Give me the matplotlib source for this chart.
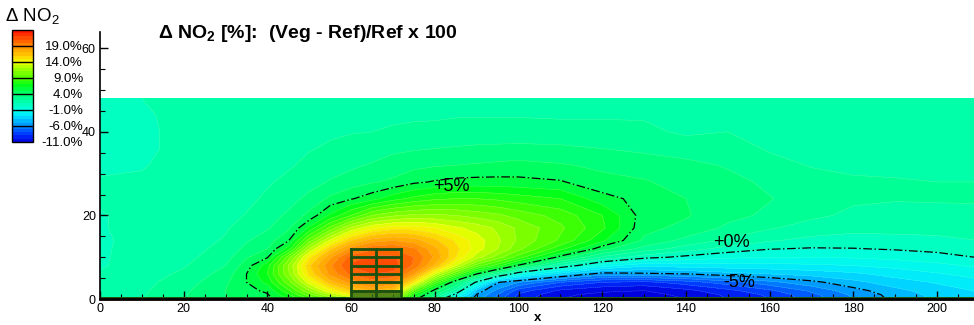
import numpy as np
import matplotlib
matplotlib.use('Agg')
import matplotlib.pyplot as plt
from matplotlib.colors import LinearSegmentedColormap, Normalize
from matplotlib.cm import ScalarMappable
from matplotlib.patches import Rectangle
from matplotlib.ticker import MultipleLocator

plt.rcParams['font.family'] = ['Liberation Sans', 'DejaVu Sans']
plt.rcParams['mathtext.default'] = 'regular'
plt.rcParams['lines.dashdot_pattern'] = [7.0, 2.0, 1.2, 2.0]

# mesh nodes (m)
x_nodes = [0, 10, 20, 30, 35, 40, 45, 50, 55, 60, 65, 70, 75, 80, 85, 90, 95,
           100, 110, 120, 130, 140, 150, 160, 170, 180, 190, 200, 210]
z_nodes = [0, 1, 2, 4, 6, 8, 10, 12, 14, 17, 20, 24, 28, 32, 36, 40, 44, 48]

# delta NO2 [%], one vertical profile (bottom -> top) per x node
dno2_by_x = [
    [1.5, 1.5, 1.4, 1.3, 1.1, 0.9, 0.9, 0.9, 0.9, 0.95, 0.95, 1.1, 1.05, 0.9, 0.85, 0.8, 0.85, 0.9],
    [1.9, 1.9, 1.8, 1.7, 1.5, 1.4, 1.3, 1.25, 1.2, 1.2, 1.2, 1.2, 1.1, 0.95, 0.85, 0.85, 0.9, 1.0],
    [2.9, 2.9, 2.8, 2.5, 2.2, 1.9, 1.7, 1.6, 1.5, 1.4, 1.35, 1.3, 1.3, 1.25, 1.2, 1.2, 1.2, 1.2],
    [3.9, 4.0, 4.0, 3.8, 3.4, 3.0, 2.6, 2.3, 2.1, 1.9, 1.7, 1.5, 1.4, 1.35, 1.3, 1.3, 1.3, 1.3],
    [4.3, 4.5, 4.7, 5.0, 5.0, 4.5, 3.9, 3.3, 2.9, 2.4, 2.05, 1.8, 1.6, 1.5, 1.4, 1.4, 1.4, 1.4],
    [4.6, 4.9, 5.2, 6.3, 7.0, 6.6, 4.9, 4.0, 3.5, 2.9, 2.5, 2.15, 1.9, 1.7, 1.55, 1.5, 1.5, 1.45],
    [6.0, 6.8, 7.8, 9.5, 10.8, 11.0, 9.5, 6.5, 4.9, 3.8, 3.2, 2.6, 2.2, 1.9, 1.7, 1.6, 1.55, 1.5],
    [8.0, 9.5, 11.0, 13.5, 15.2, 15.8, 14.5, 12.0, 9.5, 6.2, 4.3, 3.3, 2.6, 2.2, 1.95, 1.8, 1.7, 1.6],
    [10.0, 12.0, 14.0, 16.5, 18.3, 18.8, 17.8, 15.8, 13.2, 9.3, 6.2, 4.2, 3.1, 2.5, 2.1, 1.9, 1.75, 1.65],
    [12.0, 14.0, 16.0, 18.5, 20.3, 21.2, 20.5, 18.5, 16.0, 12.2, 8.0, 4.9, 3.5, 2.8, 2.3, 1.95, 1.8, 1.7],
    [13.0, 15.0, 17.0, 19.5, 21.0, 21.8, 21.3, 19.8, 17.5, 13.8, 10.0, 5.6, 3.9, 3.1, 2.5, 2.0, 1.8, 1.7],
    [12.0, 14.0, 16.0, 19.0, 20.8, 21.5, 21.2, 20.0, 18.0, 14.5, 10.8, 6.6, 4.2, 3.4, 2.8, 2.1, 1.85, 1.75],
    [5.6, 7.0, 9.0, 14.5, 18.0, 19.8, 20.0, 19.2, 17.5, 14.5, 11.2, 7.3, 4.8, 3.7, 2.9, 2.15, 1.9, 1.8],
    [1.8, 3.2, 4.5, 8.5, 13.0, 16.8, 17.8, 17.3, 16.2, 14.0, 11.2, 7.8, 5.1, 3.9, 3.0, 2.2, 1.9, 1.8],
    [-3.0, -0.5, 1.5, 4.0, 9.0, 13.0, 15.0, 15.3, 14.8, 13.2, 11.0, 8.0, 5.3, 4.0, 3.1, 2.25, 1.95, 1.8],
    [-5.5, -5.1, -4.3, -0.3, 5.0, 9.5, 12.5, 13.5, 13.5, 12.6, 10.6, 8.0, 5.35, 4.1, 3.2, 2.3, 1.95, 1.8],
    [-7.5, -7.0, -6.3, -4.9, 2.0, 7.5, 10.5, 12.0, 12.2, 11.8, 10.2, 7.8, 5.35, 4.2, 3.25, 2.3, 1.95, 1.75],
    [-9.5, -9.2, -8.5, -6.0, -1.0, 4.8, 8.5, 10.3, 10.8, 10.8, 9.6, 7.5, 5.3, 4.3, 3.3, 2.3, 1.95, 1.75],
    [-11.0, -10.8, -10.2, -8.0, -3.5, 1.0, 4.6, 7.3, 8.8, 9.2, 8.6, 7.0, 5.1, 4.1, 3.2, 2.3, 1.9, 1.7],
    [-11.5, -11.3, -10.8, -9.0, -5.5, -1.5, 1.8, 4.4, 6.2, 7.2, 7.0, 5.4, 4.3, 3.8, 3.0, 2.3, 1.9, 1.7],
    [-11.5, -11.3, -11.0, -9.3, -5.2, -2.8, 0.4, 2.6, 3.8, 4.3, 4.5, 4.6, 4.1, 3.5, 2.8, 2.2, 1.9, 1.7],
    [-11.0, -10.8, -10.3, -8.5, -5.0, -2.5, -0.3, 1.5, 2.7, 3.7, 4.1, 4.0, 3.6, 3.3, 2.5, 1.85, 1.7, 1.6],
    [-10.0, -9.8, -9.3, -7.5, -4.4, -2.4, -0.8, 0.6, 1.8, 2.8, 3.3, 3.4, 3.3, 2.9, 2.4, 2.0, 1.7, 1.6],
    [-9.0, -8.8, -8.2, -6.3, -4.0, -2.3, -1.0, 0.05, 1.1, 2.1, 2.8, 3.05, 2.8, 2.3, 1.9, 1.75, 1.65, 1.55],
    [-7.5, -7.3, -6.8, -5.3, -3.6, -2.2, -1.0, -0.1, 0.7, 1.6, 2.2, 2.5, 2.3, 1.95, 1.8, 1.7, 1.6, 1.5],
    [-6.0, -5.8, -5.4, -4.3, -3.2, -2.0, -0.9, -0.05, 0.6, 1.3, 1.8, 2.15, 2.1, 1.85, 1.75, 1.65, 1.55, 1.5],
    [-4.7, -4.6, -4.3, -3.5, -2.6, -1.7, -0.7, 0.1, 0.7, 1.3, 1.75, 2.05, 2.05, 1.85, 1.75, 1.65, 1.55, 1.5],
    [-3.8, -3.7, -3.5, -2.9, -2.1, -1.3, -0.4, 0.3, 0.8, 1.3, 1.7, 2.1, 2.0, 1.85, 1.75, 1.65, 1.55, 1.45],
    [-3.2, -3.1, -2.9, -2.3, -1.6, -0.8, 0.05, 0.6, 1.0, 1.4, 1.75, 2.1, 2.0, 1.85, 1.75, 1.65, 1.55, 1.45],
]

fill_levels = list(range(-11, 25))
line_levels = [-5, 0, 5]
line_labels = ['-5%', '+0%', '+5%']
line_label_xz = [(152.7, 3.9), (150.8, 13.5), (84, 27)]
cbar_ticks = [-11, -6, -1, 4, 9, 14, 19]

# building outline and floors
bld_x = [60, 66, 72]
bld_floors = [2, 4, 6, 8, 10, 12]

# rainbow palette
cm_vals = [-11, -9, -6, -3, -1, 1.5, 4, 6.5, 9, 12, 14, 16, 19, 21.5, 24]
cm_cols = ['#0000dc', '#0030ff', '#008cff', '#00e6ff', '#00ffe6', '#00ffa8',
           '#00ff73', '#00ff1a', '#4dff00', '#a6ff00', '#f2ff00', '#ffcc00',
           '#ff8c00', '#ff4d00', '#ff0d00']
pos = [(v - cm_vals[0]) / (cm_vals[-1] - cm_vals[0]) for v in cm_vals]
cmap = LinearSegmentedColormap.from_list('tp', list(zip(pos, cm_cols)))
cmap.set_under(cm_cols[0])
cmap.set_over(cm_cols[-1])
norm = Normalize(-11, 24)

W, H = 974, 325
fig = plt.figure(figsize=(W / 100, H / 100), dpi=100)
ax = fig.add_axes([100 / W, 26 / H, 874 / W, 267.5 / H])

X, Z = np.meshgrid(x_nodes, z_nodes)
V = np.array(dno2_by_x).T
ax.contourf(X, Z, V, levels=fill_levels, cmap=cmap, norm=norm, extend='both')
ax.contour(X, Z, V, levels=fill_levels, colors='white', linewidths=0.3, alpha=0.35)
cs = ax.contour(X, Z, V, levels=line_levels, colors='k', linewidths=0.9,
                linestyles='dashdot')
for txt, (lx, lz) in zip(line_labels, line_label_xz):
    ax.text(lx, lz, txt, fontsize=13, ha='center', va='center')

# ground strip and building
ax.add_patch(Rectangle((0, 0), 210, 0.55, color='#1d5512', lw=0, zorder=3))
ax.add_patch(Rectangle((bld_x[0], 0), bld_x[-1] - bld_x[0], 2.2,
                       color='#2f6a16', alpha=0.8, lw=0, zorder=3))
bcol = '#1b5010'
for bx in bld_x:
    ax.plot([bx, bx], [0, bld_floors[-1]], color=bcol, lw=2, zorder=4)
for fz in bld_floors:
    ax.plot([bld_x[0], bld_x[-1]], [fz, fz], color=bcol, lw=2, zorder=4)

ax.set_xlim(0, 208.8)
ax.set_ylim(0, 64)
ax.set_xticks(range(0, 201, 20))
ax.set_yticks([0, 20, 40, 60])
ax.xaxis.set_minor_locator(MultipleLocator(5))
ax.yaxis.set_minor_locator(MultipleLocator(5))
ax.tick_params(which='major', direction='in', length=6, width=1, labelsize=9,
               top=False, right=False, pad=3)
ax.tick_params(which='minor', direction='in', length=3.5, width=0.8,
               top=False, right=False)
for s in ['top', 'right']:
    ax.spines[s].set_visible(False)
ax.spines['bottom'].set_linewidth(2)
ax.spines['left'].set_linewidth(1.2)
for s in ['bottom', 'left']:
    ax.spines[s].set_zorder(5)

fig.text(538 / W, 1 - 318 / H, 'x', ha='center', va='center',
         fontsize=9.5, fontweight='bold')
fig.text(158 / W, 1 - 33 / H, 'Δ NO$_2$ [%]:  (Veg - Ref)/Ref x 100',
         ha='left', va='center', fontsize=14, fontweight='bold')
fig.text(5 / W, 1 - 16 / H, 'Δ NO$_2$', ha='left', va='center', fontsize=13.5)

# legend bar
cax = fig.add_axes([11.5 / W, (H - 141.7) / H, 21 / W, 111.7 / H])
mids = [lv + 0.5 for lv in fill_levels[:-1]]
cb = fig.colorbar(ScalarMappable(norm=norm, cmap=cmap), cax=cax,
                  boundaries=fill_levels, values=mids, ticks=cbar_ticks)
cb.set_ticklabels([f'{t:.1f}%' for t in cbar_ticks])
cax.tick_params(length=0, pad=36.5, labelsize=9.5)
for lbl in cax.get_yticklabels():
    lbl.set_ha('right')
for t in cbar_ticks[1:]:
    cax.axhline(t, color='k', lw=1)
cb.outline.set_linewidth(1)

fig.savefig('out.png', dpi=100)
